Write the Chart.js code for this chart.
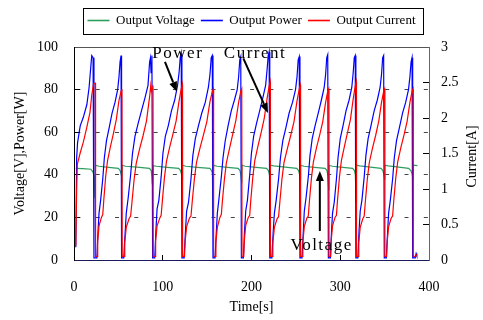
<!DOCTYPE html>
<html>
<head>
<meta charset="utf-8">
<script src="https://cdn.jsdelivr.net/npm/chart.js@4.4.0/dist/chart.umd.min.js"></script>
<style>
  html, body { margin: 0; padding: 0; background: #fff; }
  #wrap { width: 483px; height: 320px; }
</style>
</head>
<body>
<div id="wrap"><canvas id="chart" width="483" height="320"></canvas></div>
<script>
const timeTicks = [0, 100, 200, 300, 400];
const powerTicks = [0, 20, 40, 60, 80, 100];
const currentTicks = [0, 0.5, 1, 1.5, 2, 2.5, 3];
const seriesNames = ["Output Voltage", "Output Power", "Output Current"];

// [time s, voltage V]
const voltage = [
  [2, 43], [10, 42.9], [19, 42.6], [21, 41.5], [22.5, 40], [23.5, 29],
  [24.3, 44.5], [28, 44], [39, 43.5], [50, 43], [52, 42], [53, 40.5], [54, 38.5],
  [54.3, 44.5], [58, 44], [71, 43.6], [85, 43], [87, 42], [87.8, 39], [88.2, 36], [88.5, 40], [88.8, 35],
  [89.3, 44.3], [93, 44], [105, 43.5], [118, 43], [120, 42], [121, 40.5], [122, 38],
  [122.3, 44.5], [126, 44], [139, 43.5], [153, 43], [155, 42], [156, 40.5], [156.5, 20],
  [157.2, 44.5], [161, 44], [173, 43.5], [185, 43], [187, 42], [188, 40], [189, 36],
  [189.3, 44.5], [193, 44], [205, 43.5], [217, 43], [219, 42], [220, 40.5], [221, 38],
  [221.3, 44.5], [225, 44.2], [238, 43.6], [251, 43], [253, 42], [254, 40.5], [255, 38],
  [255.3, 44.5], [259, 44], [271, 43.5], [283, 43], [285, 42], [286, 40], [287, 33],
  [287.3, 44.5], [291, 44], [303, 43.5], [314, 43], [316, 42], [317, 40], [318, 27],
  [318.3, 44.5], [322, 44.2], [334, 43.6], [346, 43], [348, 42], [349, 40.5], [350, 38],
  [350.3, 44.5], [354, 44.2], [366, 43.6], [377, 43], [379.5, 42], [381, 40.5], [382, 38],
  [382.3, 44.5], [387, 44.3]
];

// [time s, power W]
const power = [
  [2, 6], [3, 48], [4, 55], [7, 63], [10.5, 67], [14.5, 73], [17, 81], [19, 91], [20, 96], [21.5, 95], [22.5, 1],
  [25.8, 1], [27, 13], [28.2, 22], [30, 28], [32.4, 38], [34.2, 48], [36.6, 56], [39.6, 62], [42.9, 69], [46.2, 74], [49.2, 80], [50.7, 86], [51.9, 93], [53, 96], [53.6, 1],
  [56.1, 1], [57.5, 12], [58.9, 22], [61, 29], [63.8, 40], [65.9, 50], [68.7, 58], [72.2, 64], [76, 70], [79.9, 76], [83.4, 82], [85.2, 93], [86.2, 95], [86.8, 88], [87.8, 96], [88.6, 1],
  [91, 1], [92.3, 14], [93.6, 24], [95.6, 28], [98.2, 39], [100.2, 50], [102.9, 58], [106.2, 63], [109.8, 70], [113.4, 75], [116.7, 82], [118.4, 88], [119.7, 95], [120.8, 97], [121.6, 1],
  [124.1, 1], [125.5, 13], [126.9, 23], [129, 27], [131.8, 38], [133.9, 49], [136.7, 57], [140.2, 63], [144, 69], [147.9, 74], [151.4, 81], [153.2, 87], [154.6, 95], [155.8, 96], [156.6, 1],
  [158.9, 1], [160.2, 12], [161.5, 22], [163.4, 29], [166, 39], [167.9, 48], [170.4, 56], [173.6, 63], [177.2, 70], [180.7, 75], [183.9, 80], [185.5, 86], [186.8, 94], [187.9, 95.5], [188.6, 1],
  [190.9, 1], [192.2, 14], [193.5, 23], [195.4, 28], [198, 40], [199.9, 50], [202.4, 58], [205.6, 64], [209.2, 70], [212.7, 76], [215.9, 82], [217.5, 89], [218.8, 96], [219.9, 97.8], [220.6, 1],
  [223, 1], [224.4, 13], [225.8, 22], [227.8, 28], [230.5, 38], [232.6, 48], [235.3, 56], [238.7, 62], [242.4, 69], [246.2, 74], [249.6, 80], [251.3, 86], [252.6, 94], [253.8, 95.5], [254.6, 1],
  [256.9, 1], [258.2, 12], [259.5, 23], [261.4, 29], [264, 39], [265.9, 49], [268.4, 57], [271.6, 63], [275.2, 69], [278.7, 75], [281.9, 81], [283.5, 87], [284.8, 95], [285.9, 96.4], [286.6, 1],
  [288.9, 1], [290.1, 13], [291.3, 22], [293.2, 27], [295.7, 38], [297.5, 48], [300, 57], [303.1, 63], [306.5, 70], [309.9, 75], [313, 81], [314.6, 88], [315.8, 95], [316.9, 96], [317.6, 1],
  [319.9, 1], [321.2, 14], [322.5, 23], [324.4, 28], [327, 39], [328.9, 49], [331.4, 57], [334.6, 63], [338.2, 70], [341.7, 75], [344.9, 81], [346.5, 87], [347.8, 95], [348.9, 96], [349.6, 1],
  [351.9, 1], [353.2, 12], [354.5, 22], [356.4, 28], [359, 38], [360.9, 48], [363.4, 56], [366.6, 62], [370.2, 69], [373.7, 74], [376.9, 80], [378.5, 86], [379.8, 93], [380.9, 95], [381.6, 1],
  [384.5, 1], [385.5, 3], [386.3, 2]
];

// [time s, current A]
const current = [
  [2, 0.2], [3, 1.0], [3.8, 1.35], [6.8, 1.5], [10.5, 1.66], [14.3, 1.86], [18, 2.08], [20, 2.32], [22, 2.48], [24, 2.49],
  [24.3, 0.05], [26.1, 0.05], [26.7, 0.26], [28.2, 0.48], [30.9, 0.6], [32.4, 0.64], [33.6, 0.85], [35.7, 1.18], [37.8, 1.4], [41.1, 1.6], [44.4, 1.78], [47.7, 1.98], [50.7, 2.25], [53.1, 2.38], [54, 2.41],
  [54.3, 0.05], [56.5, 0.05], [57.2, 0.25], [58.9, 0.46], [62, 0.58], [63.8, 0.62], [65.2, 0.8], [67.7, 1.13], [70.1, 1.36], [74, 1.57], [77.8, 1.75], [81.7, 1.96], [85.2, 2.3], [86.5, 2.46], [87.2, 2.38], [88, 2.42], [89, 2.46],
  [89.3, 0.05], [91.3, 0.05], [92, 0.27], [93.6, 0.48], [96.6, 0.59], [98.2, 0.63], [99.6, 0.84], [101.9, 1.16], [104.2, 1.39], [107.8, 1.59], [111.4, 1.77], [115.1, 1.96], [118.4, 2.24], [121, 2.42], [122, 2.47],
  [122.3, 0.05], [124.5, 0.05], [125.2, 0.26], [126.9, 0.47], [130.1, 0.59], [131.8, 0.62], [133.2, 0.82], [135.7, 1.15], [138.1, 1.38], [142, 1.58], [145.8, 1.76], [149.7, 1.95], [153.2, 2.23], [156, 2.38], [157, 2.41],
  [157.3, 0.05], [159.2, 0.05], [159.9, 0.25], [161.5, 0.46], [164.4, 0.6], [166, 0.64], [167.2, 0.83], [169.5, 1.14], [171.7, 1.37], [175.2, 1.57], [178.8, 1.77], [182.3, 1.96], [185.5, 2.22], [188, 2.38], [189, 2.41],
  [189.3, 0.05], [191.2, 0.05], [191.9, 0.27], [193.5, 0.49], [196.4, 0.6], [198, 0.63], [199.2, 0.84], [201.5, 1.17], [203.7, 1.4], [207.2, 1.6], [210.8, 1.79], [214.3, 1.99], [217.5, 2.27], [220, 2.46], [221, 2.51],
  [221.3, 0.05], [223.4, 0.05], [224.1, 0.25], [225.8, 0.46], [228.8, 0.58], [230.5, 0.61], [231.9, 0.81], [234.3, 1.14], [236.6, 1.37], [240.4, 1.57], [244.1, 1.75], [247.9, 1.95], [251.3, 2.24], [254, 2.42], [255, 2.46],
  [255.3, 0.05], [257.2, 0.05], [257.9, 0.26], [259.5, 0.47], [262.4, 0.59], [264, 0.62], [265.2, 0.82], [267.5, 1.15], [269.7, 1.38], [273.2, 1.58], [276.8, 1.76], [280.3, 1.95], [283.5, 2.22], [286, 2.38], [287, 2.41],
  [287.3, 0.05], [289.2, 0.05], [289.8, 0.27], [291.3, 0.48], [294.1, 0.6], [295.7, 0.63], [296.9, 0.84], [299.1, 1.17], [301.3, 1.4], [304.7, 1.6], [308.1, 1.79], [311.5, 1.98], [314.6, 2.27], [317, 2.46], [318, 2.51],
  [318.3, 0.05], [320.2, 0.05], [320.9, 0.25], [322.5, 0.46], [325.4, 0.58], [327, 0.62], [328.2, 0.81], [330.5, 1.14], [332.7, 1.37], [336.2, 1.57], [339.8, 1.75], [343.3, 1.95], [346.5, 2.22], [349, 2.38], [350, 2.41],
  [350.3, 0.05], [352.2, 0.05], [352.9, 0.26], [354.5, 0.47], [357.4, 0.59], [359, 0.62], [360.2, 0.82], [362.5, 1.15], [364.7, 1.38], [368.2, 1.58], [371.8, 1.76], [375.3, 1.95], [378.5, 2.22], [381, 2.38], [382, 2.41],
  [382.3, 0.05], [385, 0.05], [386, 0.08]
];

// callouts in data units (time, left axis)
const notes = [
  { text: "Power", x: 117, y: 94.7 },
  { text: "Current", x: 204, y: 94.7 },
  { text: "Voltage", x: 279, y: 4.7 }
];
const arrows = [
  { from: [102.5, 93], to: [115.9, 79] },
  { from: [190.8, 94.7], to: [218.6, 69] },
  { from: [277, 13.6], to: [277, 41.8] }
];

const SERIF = "'Liberation Serif', 'Times New Roman', serif";
Chart.defaults.font.family = SERIF;
Chart.defaults.font.size = 14;
Chart.defaults.color = "#000";

const toXY = (pts) => pts.map(([x, y]) => ({ x, y }));
const fixedTicks = (list) => (scale) => { scale.ticks = list.map((v) => ({ value: v })); };

const extras = {
  id: "extras",
  afterLayout(chart) {
    // legend sits centred over the plot, not the canvas
    const lg = chart.legend;
    const dx = (chart.chartArea.left + chart.chartArea.right) / 2 - (lg.left + lg.right) / 2;
    lg.left += dx;
    lg.right += dx;
  },
  afterDatasetsDraw(chart) {
    const { ctx, scales } = chart;
    const px = (t) => scales.x.getPixelForValue(t);
    const py = (v) => scales.y.getPixelForValue(v);
    ctx.save();
    ctx.strokeStyle = "#000";
    ctx.fillStyle = "#000";
    ctx.lineWidth = 2;
    arrows.forEach((a) => {
      const x1 = px(a.from[0]), y1 = py(a.from[1]);
      const x2 = px(a.to[0]), y2 = py(a.to[1]);
      const ang = Math.atan2(y2 - y1, x2 - x1);
      const hl = 10, hw = 4;
      const bx = x2 - hl * Math.cos(ang), by = y2 - hl * Math.sin(ang);
      ctx.beginPath();
      ctx.moveTo(x1, y1);
      ctx.lineTo(bx, by);
      ctx.stroke();
      ctx.beginPath();
      ctx.moveTo(x2, y2);
      ctx.lineTo(bx + hw * Math.sin(ang), by - hw * Math.cos(ang));
      ctx.lineTo(bx - hw * Math.sin(ang), by + hw * Math.cos(ang));
      ctx.closePath();
      ctx.fill();
    });
    ctx.font = "17px " + SERIF;
    ctx.letterSpacing = "1.5px";
    ctx.textAlign = "center";
    ctx.textBaseline = "alphabetic";
    notes.forEach((n) => ctx.fillText(n.text, px(n.x), py(n.y)));
    ctx.restore();
  },
  afterDraw(chart) {
    const { ctx, chartArea } = chart;
    const lg = chart.legend;
    const pad = lg.options.labels.padding;
    const rowW = lg.lineWidths[0];
    const x0 = (lg.left + pad + lg.right - rowW) / 2;
    const top = lg.top + pad;
    ctx.save();
    ctx.strokeStyle = "#000";
    ctx.lineWidth = 1;
    ctx.strokeRect(Math.round(x0 - 5) + 0.5, Math.round(top - 6) + 0.5, Math.round(rowW - pad + 12), 26);
    // right axis title reads bottom to top
    const yI = chart.scales.yI;
    ctx.translate(yI.right - 11, (chartArea.top + chartArea.bottom) / 2 + 3);
    ctx.rotate(-Math.PI / 2);
    ctx.font = "14px " + SERIF;
    ctx.textAlign = "center";
    ctx.textBaseline = "middle";
    ctx.fillStyle = "#000";
    ctx.fillText("Current[A]", 0, 0);
    ctx.restore();
  }
};

new Chart(document.getElementById("chart"), {
  type: "line",
  data: {
    datasets: [
      { label: seriesNames[0], data: toXY(voltage), borderColor: "#2e9e5e", backgroundColor: "#2e9e5e", yAxisID: "y", order: 3 },
      { label: seriesNames[1], data: toXY(power), borderColor: "#0000ff", backgroundColor: "#0000ff", yAxisID: "y", order: 2 },
      { label: seriesNames[2], data: toXY(current), borderColor: "#ff0000", backgroundColor: "#ff0000", yAxisID: "yI", order: 1 }
    ]
  },
  options: {
    responsive: false,
    animation: false,
    devicePixelRatio: 1,
    layout: { padding: { top: 8, left: 0, right: 0, bottom: 0 } },
    elements: { point: { radius: 0 }, line: { borderWidth: 1.2, tension: 0 } },
    plugins: {
      tooltip: { enabled: false },
      legend: {
        labels: {
          font: { size: 13 },
          color: "#000",
          usePointStyle: true,
          pointStyle: "line",
          pointStyleWidth: 22,
          padding: 6,
          sort: (a, b) => a.datasetIndex - b.datasetIndex,
          generateLabels: (chart) =>
            Chart.defaults.plugins.legend.labels.generateLabels(chart).map((l) => ({ ...l, lineWidth: 1.6 }))
        }
      }
    },
    scales: {
      x: {
        type: "linear",
        position: "bottom",
        min: 0,
        max: 400,
        afterBuildTicks: fixedTicks(timeTicks),
        ticks: { padding: 24, callback: (v) => String(v) },
        grid: { drawOnChartArea: false, tickLength: -5, tickColor: "#000" },
        border: { color: "#1a1a5e" },
        title: { display: true, text: "Time[s]", padding: { top: 0, bottom: 4 } },
        afterFit: (s) => { s.height = 60; }
      },
      xTop: {
        type: "linear",
        position: "top",
        min: 0,
        max: 400,
        ticks: { display: false },
        grid: { display: false },
        border: { color: "#555" },
        afterFit: (s) => { s.height = 10; }
      },
      y: {
        type: "linear",
        position: "left",
        min: 0,
        max: 100,
        afterBuildTicks: fixedTicks(powerTicks),
        ticks: { padding: 22, callback: (v) => String(v) },
        grid: {
          color: (c) => (c.tick && (c.tick.value === 0 || c.tick.value === 100)) ? "rgba(0,0,0,0)" : "#444",
          tickLength: -6,
          tickColor: "#000",
          tickBorderDash: [],
          lineWidth: 1
        },
        border: { color: "#000", dash: [4, 15.3], dashOffset: 17.9 },
        title: { display: true, text: "Voltage[V],Power[W]", padding: { top: 12, bottom: 0 } },
        afterFit: (s) => { s.width = 74; }
      },
      yI: {
        type: "linear",
        position: "right",
        min: 0,
        max: 3,
        afterBuildTicks: fixedTicks(currentTicks),
        ticks: { padding: 18, callback: (v) => String(v) },
        grid: { drawOnChartArea: false, tickLength: -6, tickColor: "#000" },
        border: { color: "#666" },
        afterFit: (s) => { s.width = 54; }
      }
    }
  },
  plugins: [extras]
});
</script>
</body>
</html>
